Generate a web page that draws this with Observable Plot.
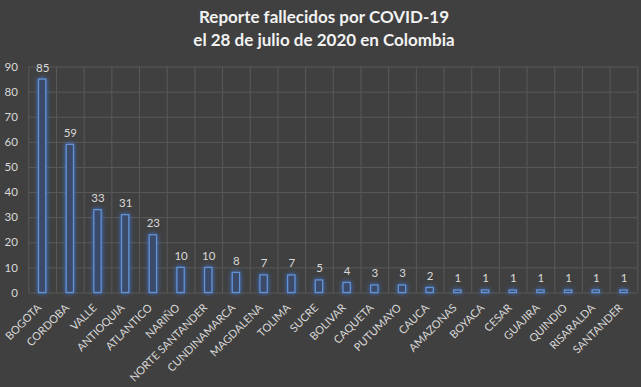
<!DOCTYPE html>
<html><head><meta charset="utf-8">
<script src="https://cdn.jsdelivr.net/npm/d3@7"></script>
<script src="https://cdn.jsdelivr.net/npm/@observablehq/plot@0.6"></script>
<style>
body{margin:0;background:#404040;width:641px;height:387px;overflow:hidden;font-family:Lato,sans-serif}
#title{height:56px;color:#f2f2f2;font-weight:bold;font-size:17px;text-align:center;line-height:23px;padding-top:5px;padding-left:7px;box-sizing:border-box}
</style></head><body>
<div id="title"><div>Reporte fallecidos por COVID-19</div><div>el 28 de julio de 2020 en Colombia</div></div>
<div id="chart"></div>
<script>
const departamentos = ["BOGOTA","CORDOBA","VALLE","ANTIOQUIA","ATLANTICO","NARIÑO","NORTE SANTANDER","CUNDINAMARCA","MAGDALENA","TOLIMA","SUCRE","BOLIVAR","CAQUETA","PUTUMAYO","CAUCA","AMAZONAS","BOYACA","CESAR","GUAJIRA","QUINDIO","RISARALDA","SANTANDER"];
const fallecidos = [85,59,33,31,23,10,10,8,7,7,5,4,3,3,2,1,1,1,1,1,1,1];
const yTicks = [0,10,20,30,40,50,60,70,80,90];
const data = departamentos.map((d,i)=>({dep:d, n:fallecidos[i]}));
const W = 641, ML = 28.3, MR = 3.7;
const step = (W-ML-MR)/departamentos.length;
const grid = "#595959";
const plot = Plot.plot({
  width:W, height:331, marginTop:10.5, marginBottom:94.5, marginLeft:ML, marginRight:MR,
  style:{background:"#404040", color:"#d9d9d9", fontFamily:"Lato, sans-serif", fontSize:"11px"},
  x:{domain:departamentos, paddingInner:0.735, paddingOuter:0.3675, round:false, label:null},
  y:{domain:[0,90], label:null},
  marks:[
    Plot.ruleY(yTicks,{y:d=>d, stroke:grid, strokeWidth:1}),
    Plot.ruleX(departamentos,{x:d=>d, dx:-step/2, stroke:grid, strokeWidth:1}),
    Plot.ruleX(departamentos.slice(-1),{x:d=>d, dx:step/2, stroke:grid, strokeWidth:1}),
    Plot.barY(data,{x:"dep", y:"n", fill:"#3a4a68", stroke:"#6592d4", strokeWidth:1.3}),
    Plot.text(data,{x:"dep", y:"n", text:d=>String(d.n), dy:-8, lineAnchor:"bottom", fill:"#d9d9d9", fontSize:11.5}),
    Plot.axisY({ticks:yTicks, tickSize:0, tickPadding:11, label:null, fill:"#d9d9d9", fontSize:11.5}),
    Plot.axisX({tickRotate:-45, tickSize:0, tickPadding:13, dx:-3, label:null, fill:"#d9d9d9", fontSize:11})
  ]
});
const bars = plot.querySelector('g[aria-label="bar"]');
if (bars) bars.style.filter = "drop-shadow(0 0 2.5px #3d74d0)";
document.getElementById("chart").appendChild(plot);
</script>
</body></html>
